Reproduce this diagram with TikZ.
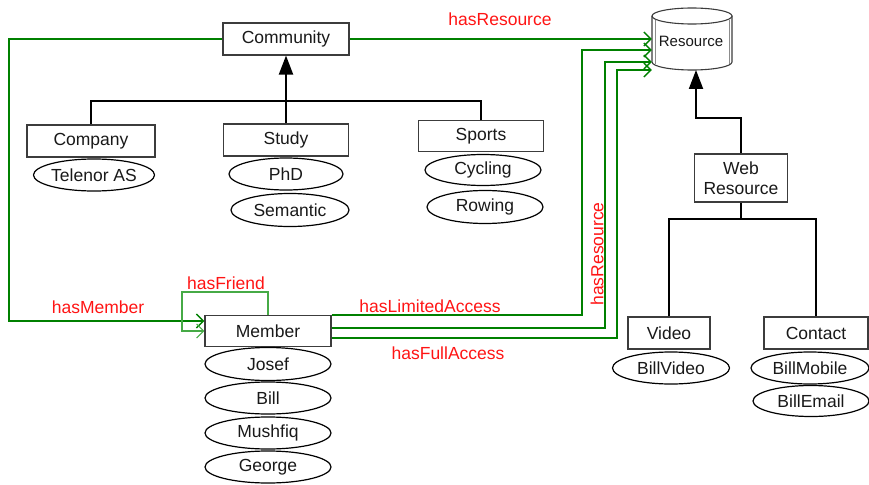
\documentclass[tikz,border=0pt]{standalone}
\usepackage{fontspec}
\setmainfont{Liberation Sans}
\usetikzlibrary{arrows.meta,shapes.geometric}
\definecolor{relgreen}{RGB}{0,128,0}
\definecolor{friendgreen}{RGB}{70,170,70}
\definecolor{labelred}{RGB}{255,20,20}
\definecolor{boxline}{RGB}{60,60,60}
\begin{document}
\begin{tikzpicture}[x=1pt,y=-1pt,
  txt/.style={font=\fontsize{17.5pt}{19pt}\selectfont, text=black!90},
  cls/.style={txt, draw=boxline, line width=1.1pt, fill=white, inner sep=0pt},
  inst/.style={txt, ellipse, draw=black, line width=1.2pt, inner sep=0pt},
  tree/.style={draw=black, line width=2pt},
  gen/.style={tree, -{Triangle[length=19pt,width=14pt]}},
  rel/.style={draw=relgreen, line width=2pt, -{Straight Barb[length=7pt,width=14pt,line width=1.4pt]}},
  friend/.style={draw=friendgreen, line width=1.2pt, -{Straight Barb[length=7pt,width=14pt,line width=1.2pt]}},
  lbl/.style={font=\fontsize{17.5pt}{19pt}\selectfont, text=labelred, inner sep=0pt}
]
\useasboundingbox (0,0) rectangle (869,484);

% community classes
\node[cls, minimum width=126pt, minimum height=32pt] (community) at (286,39) {Community};
\node[cls, minimum width=128pt, minimum height=32pt] (company) at (91,141) {Company};
\node[inst, minimum width=117pt, minimum height=32pt] (telenor) at (94,175) {Telenor AS};
\node[cls, minimum width=125pt, minimum height=32pt] (study) at (286,140) {Study};
\node[inst, minimum width=114pt, minimum height=32pt] (phd) at (286,174) {PhD};
\node[inst, minimum width=118pt, minimum height=33pt] (semantic) at (290,210) {Semantic};
\node[cls, minimum width=125pt, minimum height=31pt] (sports) at (481,136) {Sports};
\node[inst, minimum width=116pt, minimum height=31pt] (cycling) at (483,170) {Cycling};
\node[inst, minimum width=116pt, minimum height=33pt] (rowing) at (485,207) {Rowing};

% resource store (cylinder)
\fill[white] (652,16) -- (652,62) arc[start angle=180,end angle=360,x radius=40pt,y radius=8pt] -- (732,16) -- cycle;
\draw[boxline, line width=1.1pt] (652,16) -- (652,62) arc[start angle=180,end angle=360,x radius=40pt,y radius=8pt] -- (732,16);
\draw[black!45, line width=0.6pt] (655,20) -- (655,64);
\draw[black!45, line width=0.6pt] (729,20) -- (729,64);
\draw[boxline, line width=1.1pt, fill=white] (692,16) ellipse[x radius=40pt, y radius=8pt];
\node[minimum width=80pt, minimum height=62pt, inner sep=0pt] (res) at (692,39) {};
\node[font=\fontsize{15pt}{17pt}\selectfont, text=black!90, inner sep=0pt] (reslabel) at (691,41) {Resource};

% resource classes
\node[cls, minimum width=93pt, minimum height=48pt, align=center, font=\fontsize{17.5pt}{20pt}\selectfont] (webres) at (741,178) {Web\\Resource};
\node[cls, minimum width=82pt, minimum height=32pt] (video) at (669,333) {Video};
\node[inst, minimum width=117pt, minimum height=32pt] (billvideo) at (671,368) {BillVideo};
\node[cls, minimum width=104pt, minimum height=32pt] (contact) at (816,333) {Contact};
\node[inst, minimum width=118pt, minimum height=32pt] (billmobile) at (810,368) {BillMobile};
\node[inst, minimum width=116pt, minimum height=31pt] (billemail) at (811,401) {BillEmail};

% member and its instances
\node[cls, minimum width=126pt, minimum height=31pt] (member) at (268,331) {Member};
\node[inst, minimum width=126pt, minimum height=33pt] (josef) at (268,364) {Josef};
\node[inst, minimum width=126pt, minimum height=32pt] (bill) at (268,398) {Bill};
\node[inst, minimum width=126pt, minimum height=32pt] (mushfiq) at (268,433) {Mushfiq};
\node[inst, minimum width=126pt, minimum height=32pt] (george) at (268,467) {George};

% generalisation trees
\draw[tree] (company.north) |- (286,101) -| (sports.north);
\draw[gen] (study.north) -- (community.south);
\draw[gen] (webres.north) |- (696,118) -- (696,70);
\draw[tree] (webres.south) -- (741,219);
\draw[tree] (video.north) |- (741,219) -| (contact.north);

% relations
\draw[rel] (community.east) -- (res.west);
\draw[rel] (community.west) -| (9,321) -- (member.west |- 0,321);
\draw[friend] (member.north) |- (182,292) |- (member.west);
\draw[rel] (member.north east) -| (582,50) -- (res.west |- 0,50);
\draw[rel] (member.east |- 0,328) -| (605,62) -- (res.west |- 0,62);
\draw[rel] (member.east |- 0,338) -| (617,70) -- (res.west |- 0,70);

% relation labels
\node[lbl] (lres) at (500,19) {hasResource};
\node[lbl] (lmem) at (98,307) {hasMember};
\node[lbl] (lfri) at (226,283) {hasFriend};
\node[lbl] (llim) at (430,306) {hasLimitedAccess};
\node[lbl] (lful) at (448,353) {hasFullAccess};
\node[lbl, rotate=90] (lres2) at (597,254) {hasResource};
\end{tikzpicture}
\end{document}
